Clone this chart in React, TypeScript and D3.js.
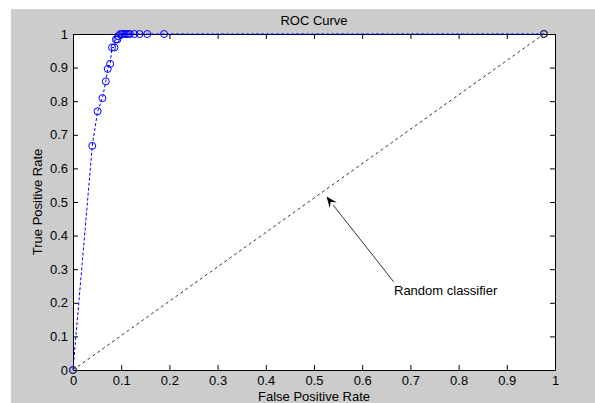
import React, { useEffect, useRef } from "react";
import * as d3 from "d3";

// ROC curve points
const fpr = [0, 0.04, 0.051, 0.061, 0.068, 0.072, 0.077, 0.081, 0.086, 0.089, 0.092, 0.094,
  0.098, 0.102, 0.106, 0.11, 0.114, 0.118, 0.127, 0.138, 0.154, 0.189, 0.977];
const tpr = [0, 0.667, 0.77, 0.809, 0.859, 0.896, 0.911, 0.96, 0.96, 0.984, 0.984, 0.994,
  1, 1, 1, 1, 1, 1, 1, 1, 1, 1, 1];

// random classifier line
const diagX = [0, 0.977];
const diagY = [0, 1];

// annotation: arrow tail / head and label
const arrowX = [0.665, 0.526];
const arrowY = [0.263, 0.516];
const noteText = "Random classifier";
const notePos = [0.666, 0.223];

const xTicks = [0, 0.1, 0.2, 0.3, 0.4, 0.5, 0.6, 0.7, 0.8, 0.9, 1];
const yTicks = [0, 0.1, 0.2, 0.3, 0.4, 0.5, 0.6, 0.7, 0.8, 0.9, 1];
const xTickLabels = ["0", "0.1", "0.2", "0.3", "0.4", "0.5", "0.6", "0.7", "0.8", "0.9", "1"];
const yTickLabels = ["0", "0.1", "0.2", "0.3", "0.4", "0.5", "0.6", "0.7", "0.8", "0.9", "1"];

const font = "'Liberation Sans', Arial, sans-serif";

const App = () => {
  const svgRef = useRef<SVGSVGElement>(null);

  useEffect(() => {
    const svg = d3.select(svgRef.current);
    svg.selectAll("*").remove();

    const width = 595, height = 403;
    const left = 73, right = 555, top = 34, bottom = 370;

    svg.append("rect").attr("width", width).attr("height", height).attr("fill", "#fff");
    svg.append("rect").attr("x", 11).attr("y", 9)
      .attr("width", width - 11).attr("height", height - 9).attr("fill", "#cccccc");
    svg.append("rect").attr("x", left).attr("y", top)
      .attr("width", right - left).attr("height", bottom - top).attr("fill", "#fff");

    const x = d3.scaleLinear().domain([0, 1]).range([left, right]);
    const y = d3.scaleLinear().domain([0, 1]).range([bottom, top]);

    const styleAxis = (g) => {
      g.select(".domain").attr("stroke", "#000");
      g.selectAll(".tick line").attr("stroke", "#000");
      g.selectAll(".tick text").attr("fill", "#000")
        .style("font-family", font).style("font-size", "13px");
    };

    svg.append("g")
      .attr("transform", `translate(0,${bottom})`)
      .call(d3.axisBottom(x).tickValues(xTicks).tickSizeInner(-5).tickSizeOuter(0)
        .tickPadding(6).tickFormat((d, i) => xTickLabels[i]))
      .call(styleAxis);
    svg.append("g")
      .attr("transform", `translate(${left},0)`)
      .call(d3.axisLeft(y).tickValues(yTicks).tickSizeInner(-5).tickSizeOuter(0)
        .tickPadding(5).tickFormat((d, i) => yTickLabels[i]))
      .call(styleAxis);
    svg.append("g")
      .attr("transform", `translate(0,${top})`)
      .call(d3.axisTop(x).tickValues(xTicks).tickSizeInner(-5).tickSizeOuter(0).tickFormat(() => ""))
      .call(styleAxis);
    svg.append("g")
      .attr("transform", `translate(${right},0)`)
      .call(d3.axisRight(y).tickValues(yTicks).tickSizeInner(-5).tickSizeOuter(0).tickFormat(() => ""))
      .call(styleAxis);

    const line = d3.line<number>().x(i => x(fpr[i])).y(i => y(tpr[i]));
    const idx = d3.range(fpr.length);

    svg.append("path")
      .attr("d", line(idx))
      .attr("fill", "none").attr("stroke", "#0000ff").attr("stroke-width", 1)
      .attr("stroke-dasharray", "3,2");
    svg.append("g").selectAll("circle").data(idx).join("circle")
      .attr("cx", i => x(fpr[i])).attr("cy", i => y(tpr[i])).attr("r", 3.5)
      .attr("fill", "none").attr("stroke", "#0000ff").attr("stroke-width", 1);

    const diag = d3.line<number>().x(i => x(diagX[i])).y(i => y(diagY[i]));
    svg.append("path")
      .attr("d", diag([0, 1]))
      .attr("fill", "none").attr("stroke", "#333").attr("stroke-width", 1)
      .attr("stroke-dasharray", "3,3");
    svg.append("g").selectAll("circle").data([0, 1]).join("circle")
      .attr("cx", i => x(diagX[i])).attr("cy", i => y(diagY[i])).attr("r", 3.5)
      .attr("fill", "none").attr("stroke", "#333").attr("stroke-width", 1);

    // arrow
    const x0 = x(arrowX[0]), y0 = y(arrowY[0]), x1 = x(arrowX[1]), y1 = y(arrowY[1]);
    const ang = Math.atan2(y1 - y0, x1 - x0);
    const hl = 11, hw = 4.5;
    const bx = x1 - hl * Math.cos(ang), by = y1 - hl * Math.sin(ang);
    svg.append("line")
      .attr("x1", x0).attr("y1", y0).attr("x2", bx).attr("y2", by)
      .attr("stroke", "#000").attr("stroke-width", 0.8);
    const nx = -Math.sin(ang), ny = Math.cos(ang);
    const notch = 0.6;
    svg.append("path")
      .attr("d", `M${x1},${y1}L${bx + hw * nx},${by + hw * ny}L${x1 - hl * notch * Math.cos(ang)},${y1 - hl * notch * Math.sin(ang)}L${bx - hw * nx},${by - hw * ny}Z`)
      .attr("fill", "#000");

    svg.append("text")
      .attr("x", x(notePos[0])).attr("y", y(notePos[1]))
      .style("font-family", font).style("font-size", "13px").attr("fill", "#000")
      .text(noteText);

    svg.append("text")
      .attr("x", (left + right) / 2).attr("y", 25).attr("text-anchor", "middle")
      .style("font-family", font).style("font-size", "13px").attr("fill", "#000")
      .text("ROC Curve");
    svg.append("text")
      .attr("x", (left + right) / 2).attr("y", 401).attr("text-anchor", "middle")
      .style("font-family", font).style("font-size", "13px").attr("fill", "#000")
      .text("False Positive Rate");
    svg.append("text")
      .attr("transform", `translate(42,${(top + bottom) / 2}) rotate(-90)`)
      .attr("text-anchor", "middle")
      .style("font-family", font).style("font-size", "13px").attr("fill", "#000")
      .text("True Positive Rate");
  }, []);

  return (
    <svg ref={svgRef} width={595} height={403}
      style={{ position: "absolute", left: 0, top: 0, display: "block" }} />
  );
};

export default App;
